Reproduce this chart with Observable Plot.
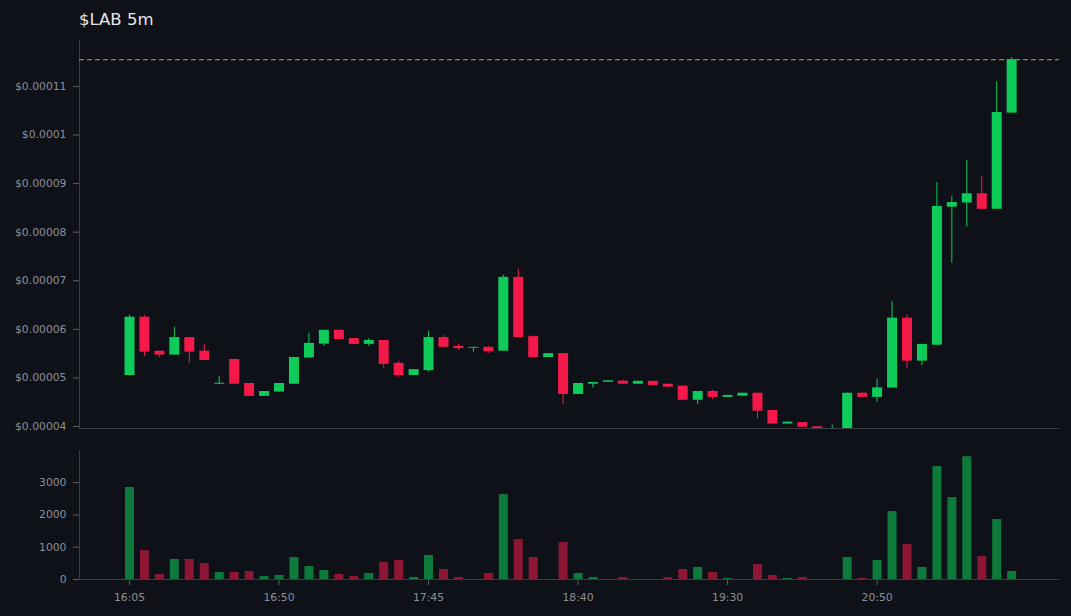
<!DOCTYPE html>
<html>
<head>
<meta charset="utf-8">
<script src="https://cdn.jsdelivr.net/npm/d3@7"></script>
<script src="https://cdn.jsdelivr.net/npm/@observablehq/plot@0.6"></script>
<style>
  html, body { margin: 0; padding: 0; background: #0e1118; }
  #wrap { position: relative; width: 1071px; height: 616px; background: #0e1118; overflow: hidden; font-family: "DejaVu Sans", sans-serif; }
  #title { position: absolute; left: 79px; top: 10px; font-size: 16.5px; color: #e4e6ea; line-height: 20px; }
  #price { position: absolute; left: 0; top: 30px; }
  #vol { position: absolute; left: 0; top: 440px; }
</style>
</head>
<body>
<div id="wrap">
  <div id="title">$LAB 5m</div>
  <div id="price"></div>
  <div id="vol"></div>
</div>
<script>
// Prices in millionths of a dollar (µ$)
const openP  = [50.5,62.5,55.5,54.7,58.3,55.5,48.7,53.8,48.85,46.2,47.1,48.7,54.1,56.95,59.8,58.1,56.9,57.7,53.0,50.5,51.5,58.3,56.5,56.1,56.3,55.5,70.7,58.5,54.2,55.0,46.6,48.7,49.1,49.33,48.7,49.3,48.7,48.3,45.4,47.2,46.0,46.25,46.85,43.3,40.5,40.8,39.95,39.3,39.4,46.85,46.0,47.9,62.3,53.45,56.7,85.15,86.0,87.9,84.7,104.5];
const highP  = [62.9,62.9,55.5,60.4,58.3,56.9,50.3,53.8,48.85,47.2,48.85,54.2,59.2,59.8,59.8,58.1,58.1,57.7,53.4,51.7,59.6,58.7,56.9,56.3,56.5,71.15,72.4,58.7,55.0,55.0,48.85,49.06,49.4,49.5,49.3,49.3,48.7,48.3,47.2,47.4,46.4,46.85,46.85,43.3,40.9,40.8,39.95,40.3,46.85,46.85,49.8,65.7,63.0,56.9,90.2,87.4,94.8,91.5,110.9,115.9];
const lowP   = [50.4,54.4,54.2,54.7,53.0,53.6,48.7,48.7,46.2,46.2,47.1,48.7,54.1,56.5,57.9,56.9,56.5,52.0,50.1,50.5,51.2,56.3,55.65,55.3,55.0,55.5,58.3,54.2,54.2,44.5,46.6,47.9,49.1,48.7,48.7,48.45,48.1,45.4,44.5,45.6,46.0,46.25,41.6,40.5,40.5,39.85,39.5,39.3,39.4,46.0,45.0,47.9,52.0,52.55,56.7,73.6,81.0,84.7,84.7,104.5];
const closeP = [62.5,55.3,54.7,58.3,55.3,53.6,48.9,48.7,46.2,47.2,48.85,54.2,57.1,59.8,57.9,56.9,57.7,52.8,50.5,51.7,58.3,56.3,56.05,56.3,55.4,70.7,58.3,54.2,55.0,46.6,48.85,49.06,49.4,48.71,49.3,48.45,48.1,45.4,47.2,46.0,46.4,46.85,43.15,40.5,40.9,39.85,39.6,39.5,46.85,46.0,47.95,62.3,53.45,56.9,85.3,86.1,87.9,84.7,104.65,115.5];
const volume = [2846,897,155,619,619,495,216,216,247,93,124,680,402,278,155,93,186,526,588,62,742,309,62,0,186,2629,1237,680,0,1144,186,62,0,62,0,0,62,309,371,216,31,0,464,124,31,62,0,0,680,31,588,2103,1083,371,3495,2536,3804,711,1856,247];

const tickIdx    = [0,10,20,30,40,50];
const tickLabels = ["16:05","16:50","17:45","18:40","19:30","20:50"];
const priceTicks = [40,50,60,70,80,90,100,110];
const volTicks   = [0,1000,2000,3000];

const UP = "#0ecb5a", DOWN = "#f5194a";
const UPV = "#0d7a3c", DOWNV = "#8d1634";
const AXIS = "#3a3d45", TICK = "#5c5f66", LABEL = "#8b8f97";
const LASTLINE = "#c8a415";

const candles = openP.map((o, i) => ({
  i, open: o, high: highP[i], low: lowP[i], close: closeP[i], vol: volume[i], up: closeP[i] >= o
}));
const last = candles[candles.length - 1];

const W = 1071, ML = 79, MR = 12;
const xDomain = [-3.344, 62.2];
const yDomain = [39.59, 119.45];
const vDomain = [0, 3994];

const fmtPrice = d => "$" + (+(d / 1e6).toPrecision(6));

const price = Plot.plot({
  width: W, height: 410,
  marginLeft: ML, marginRight: MR, marginTop: 10, marginBottom: 12,
  style: { background: "transparent", fontFamily: "DejaVu Sans, sans-serif", fontSize: "10.8px", overflow: "visible" },
  x: { type: "linear", domain: xDomain, axis: null },
  y: { domain: yDomain },
  marks: [
    Plot.axisY({ ticks: priceTicks, tickFormat: fmtPrice, tickSize: 6, tickPadding: 7, stroke: TICK, fill: LABEL, label: null }),
    Plot.ruleX([xDomain[0]], { stroke: AXIS }),
    Plot.ruleY([yDomain[0]], { stroke: AXIS }),
    Plot.ruleY([last.close], { stroke: LASTLINE, strokeOpacity: 1, strokeDasharray: "5,3", strokeWidth: 1 }),
    Plot.ruleX(candles, { x: "i", y1: "low", y2: "high", stroke: d => d.up ? UP : DOWN, strokeWidth: 1, clip: true }),
    Plot.ruleX(candles, { x: "i", y1: "open", y2: "close", stroke: d => d.up ? UP : DOWN, strokeWidth: 10, clip: true })
  ]
});
document.getElementById("price").appendChild(price);

const vol = Plot.plot({
  width: W, height: 176,
  marginLeft: ML, marginRight: MR, marginTop: 10, marginBottom: 37,
  style: { background: "transparent", fontFamily: "DejaVu Sans, sans-serif", fontSize: "10.8px", overflow: "visible" },
  x: { type: "linear", domain: xDomain },
  y: { domain: vDomain },
  marks: [
    Plot.axisY({ ticks: volTicks, tickFormat: d => String(d), tickSize: 6, tickPadding: 7, stroke: TICK, fill: LABEL, label: null }),
    Plot.axisX({ ticks: tickIdx, tickFormat: (d) => tickLabels[tickIdx.indexOf(d)], tickSize: 6, tickPadding: 8, stroke: TICK, fill: LABEL, label: null }),
    Plot.ruleX([xDomain[0]], { stroke: AXIS }),
    Plot.ruleX(candles, { x: "i", y1: 0, y2: "vol", stroke: d => d.up ? UPV : DOWNV, strokeWidth: 9 }),
    Plot.ruleY([0], { stroke: AXIS })
  ]
});
document.getElementById("vol").appendChild(vol);
</script>
</body>
</html>
